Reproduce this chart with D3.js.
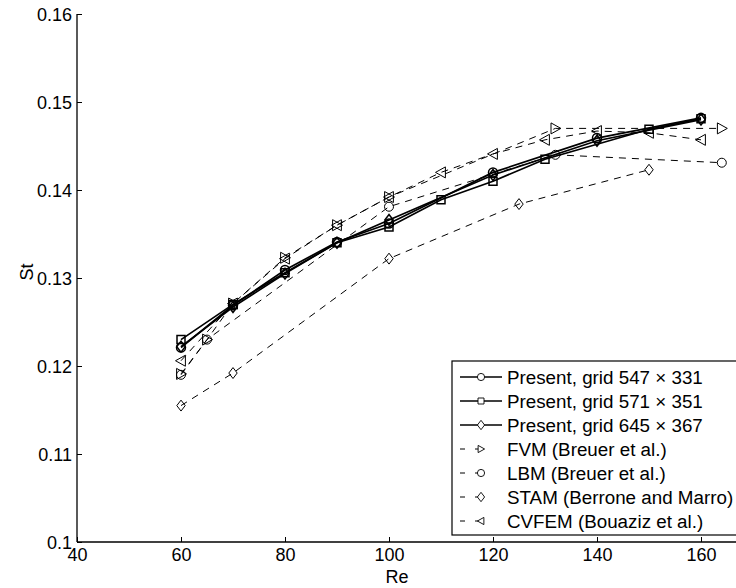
<!DOCTYPE html>
<html>
<head>
<meta charset="utf-8">
<script src="https://cdn.jsdelivr.net/npm/d3@7"></script>
<style>
  body { margin: 0; background: #fff; }
  svg { font-family: "Liberation Sans", Arial, Helvetica, sans-serif; }
</style>
</head>
<body>
<svg id="chart" width="736" height="588"></svg>
<script>
// data
const xTicks = [40, 60, 80, 100, 120, 140, 160];
const yTicks = [0.1, 0.11, 0.12, 0.13, 0.14, 0.15, 0.16];

const reGrid1 = [60, 70, 80, 90, 100, 120, 140, 160];
const stGrid1 = [0.1221, 0.1269, 0.1309, 0.1341, 0.1362, 0.1420, 0.1459, 0.1482];

const reGrid2 = [60, 70, 80, 90, 100, 110, 120, 130, 150, 160];
const stGrid2 = [0.1230, 0.1270, 0.1306, 0.1340, 0.1358, 0.1389, 0.1410, 0.1435, 0.1469, 0.1481];

const reGrid3 = [60, 70, 80, 90, 100, 120, 140, 160];
const stGrid3 = [0.1222, 0.1267, 0.1305, 0.1340, 0.1366, 0.1417, 0.1456, 0.1480];

const reFVM = [60, 65, 70, 80, 90, 100, 132, 164];
const stFVM = [0.1191, 0.1230, 0.1271, 0.1323, 0.1360, 0.1392, 0.1470, 0.1470];

const reLBM = [60, 65, 100, 132, 164];
const stLBM = [0.1190, 0.1230, 0.1381, 0.1440, 0.1431];

const reSTAM = [60, 70, 100, 125, 150];
const stSTAM = [0.1155, 0.1192, 0.1322, 0.1384, 0.1423];

const reCVFEM = [60, 70, 80, 90, 100, 110, 120, 130, 140, 150, 160];
const stCVFEM = [0.1206, 0.1271, 0.1322, 0.1360, 0.1392, 0.1420, 0.1441, 0.1457, 0.1467, 0.1465, 0.1457];

const series = [
  {name: "Present, grid 547 \u00d7 331", x: reGrid1, y: stGrid1, mark: "circle", dash: null},
  {name: "Present, grid 571 \u00d7 351", x: reGrid2, y: stGrid2, mark: "square", dash: null},
  {name: "Present, grid 645 \u00d7 367", x: reGrid3, y: stGrid3, mark: "diamond", dash: null},
  {name: "FVM (Breuer et al.)", x: reFVM, y: stFVM, mark: "right", dash: "7,6"},
  {name: "LBM (Breuer et al.)", x: reLBM, y: stLBM, mark: "circle", dash: "7,6"},
  {name: "STAM (Berrone and Marro)", x: reSTAM, y: stSTAM, mark: "diamond", dash: "7,6"},
  {name: "CVFEM (Bouaziz et al.)", x: reCVFEM, y: stCVFEM, mark: "left", dash: "7,6"}
];

const svg = d3.select("#chart");
const x = d3.scaleLinear().domain([40, 170]).range([77, 753]);
const y = d3.scaleLinear().domain([0.1, 0.16]).range([542, 14]);

// marker outlines, s = half size
function markPath(type, s) {
  if (type === "circle") {
    return `M${-s},0A${s},${s} 0 1,0 ${s},0A${s},${s} 0 1,0 ${-s},0Z`;
  }
  if (type === "square") return `M${-s},${-s}H${s}V${s}H${-s}Z`;
  if (type === "diamond") return `M0,${-s * 1.3}L${s},0L0,${s * 1.3}L${-s},0Z`;
  if (type === "right") return `M${-s * 0.8},${-s}L${s},0L${-s * 0.8},${s}Z`;
  if (type === "left") return `M${s * 0.8},${-s}L${-s},0L${s * 0.8},${s}Z`;
}
const markSize = {circle: 4.5, square: 4, diamond: 4.2, right: 5.5, left: 5.5};

// axes
const xAxis = d3.axisBottom(x).tickValues(xTicks).tickSize(-5).tickPadding(10)
  .tickFormat(d3.format("d"));
const yAxis = d3.axisLeft(y).tickValues(yTicks).tickSize(-5).tickPadding(5)
  .tickFormat(d => d === 0.1 ? "0.1" : d3.format(".2f")(d));

const gx = svg.append("g").attr("transform", "translate(0,542)").call(xAxis);
const gy = svg.append("g").attr("transform", "translate(77,0)").call(yAxis);
[gx, gy].forEach(g => {
  g.select(".domain").attr("stroke", "#000").attr("stroke-width", 1.3);
  g.selectAll(".tick line").attr("stroke", "#000");
  g.selectAll(".tick text").attr("fill", "#000").style("font-size", "18px");
});
gx.select(".domain").attr("d", "M77,0H760");
gy.select(".domain").attr("d", "M0,542V14");
gx.selectAll(".tick text").attr("dy", "0.5em");
gy.selectAll(".tick text").attr("dy", "0.34em");

svg.append("text").attr("x", 397).attr("y", 583).attr("text-anchor", "middle")
  .style("font-size", "18px").text("Re");
svg.append("text").attr("transform", "translate(33,272) rotate(-90)")
  .attr("text-anchor", "middle").style("font-size", "18px").text("St");

// lines and markers, dashed ones first
const line = d3.line().x(d => x(d[0])).y(d => y(d[1]));
const order = [3, 4, 5, 6, 0, 1, 2];
order.forEach(i => {
  const s = series[i];
  const pts = s.x.map((v, k) => [v, s.y[k]]);
  svg.append("path").datum(pts).attr("d", line)
    .attr("fill", "none").attr("stroke", "#000")
    .attr("stroke-width", s.dash ? 1 : 1.7)
    .attr("stroke-dasharray", s.dash);
  svg.append("g").selectAll("path").data(pts).join("path")
    .attr("transform", d => `translate(${x(d[0])},${y(d[1])})`)
    .attr("d", markPath(s.mark, markSize[s.mark]))
    .attr("fill", "none").attr("stroke", "#000")
    .attr("stroke-width", s.dash ? 1 : 1.5);
});

// legend
const lg = svg.append("g");
lg.append("rect").attr("x", 452).attr("y", 361).attr("width", 320).attr("height", 174)
  .attr("fill", "#fff").attr("stroke", "#000").attr("stroke-width", 1.2);
series.forEach((s, i) => {
  const yy = 377 + i * 24;
  lg.append("line").attr("x1", 460).attr("x2", 502).attr("y1", yy).attr("y2", yy)
    .attr("stroke", "#000").attr("stroke-width", s.dash ? 1 : 1.4)
    .attr("stroke-dasharray", s.dash ? "5,10,5,30" : null);
  lg.append("path").attr("transform", `translate(481,${yy})`)
    .attr("d", markPath(s.mark, s.mark === "square" ? 3 : 3.6))
    .attr("fill", "#fff").attr("stroke", "#000").attr("stroke-width", 0.9);
  lg.append("text").attr("x", 507).attr("y", yy).attr("dy", "0.36em")
    .style("font-size", "18.8px").text(s.name);
});
</script>
</body>
</html>
